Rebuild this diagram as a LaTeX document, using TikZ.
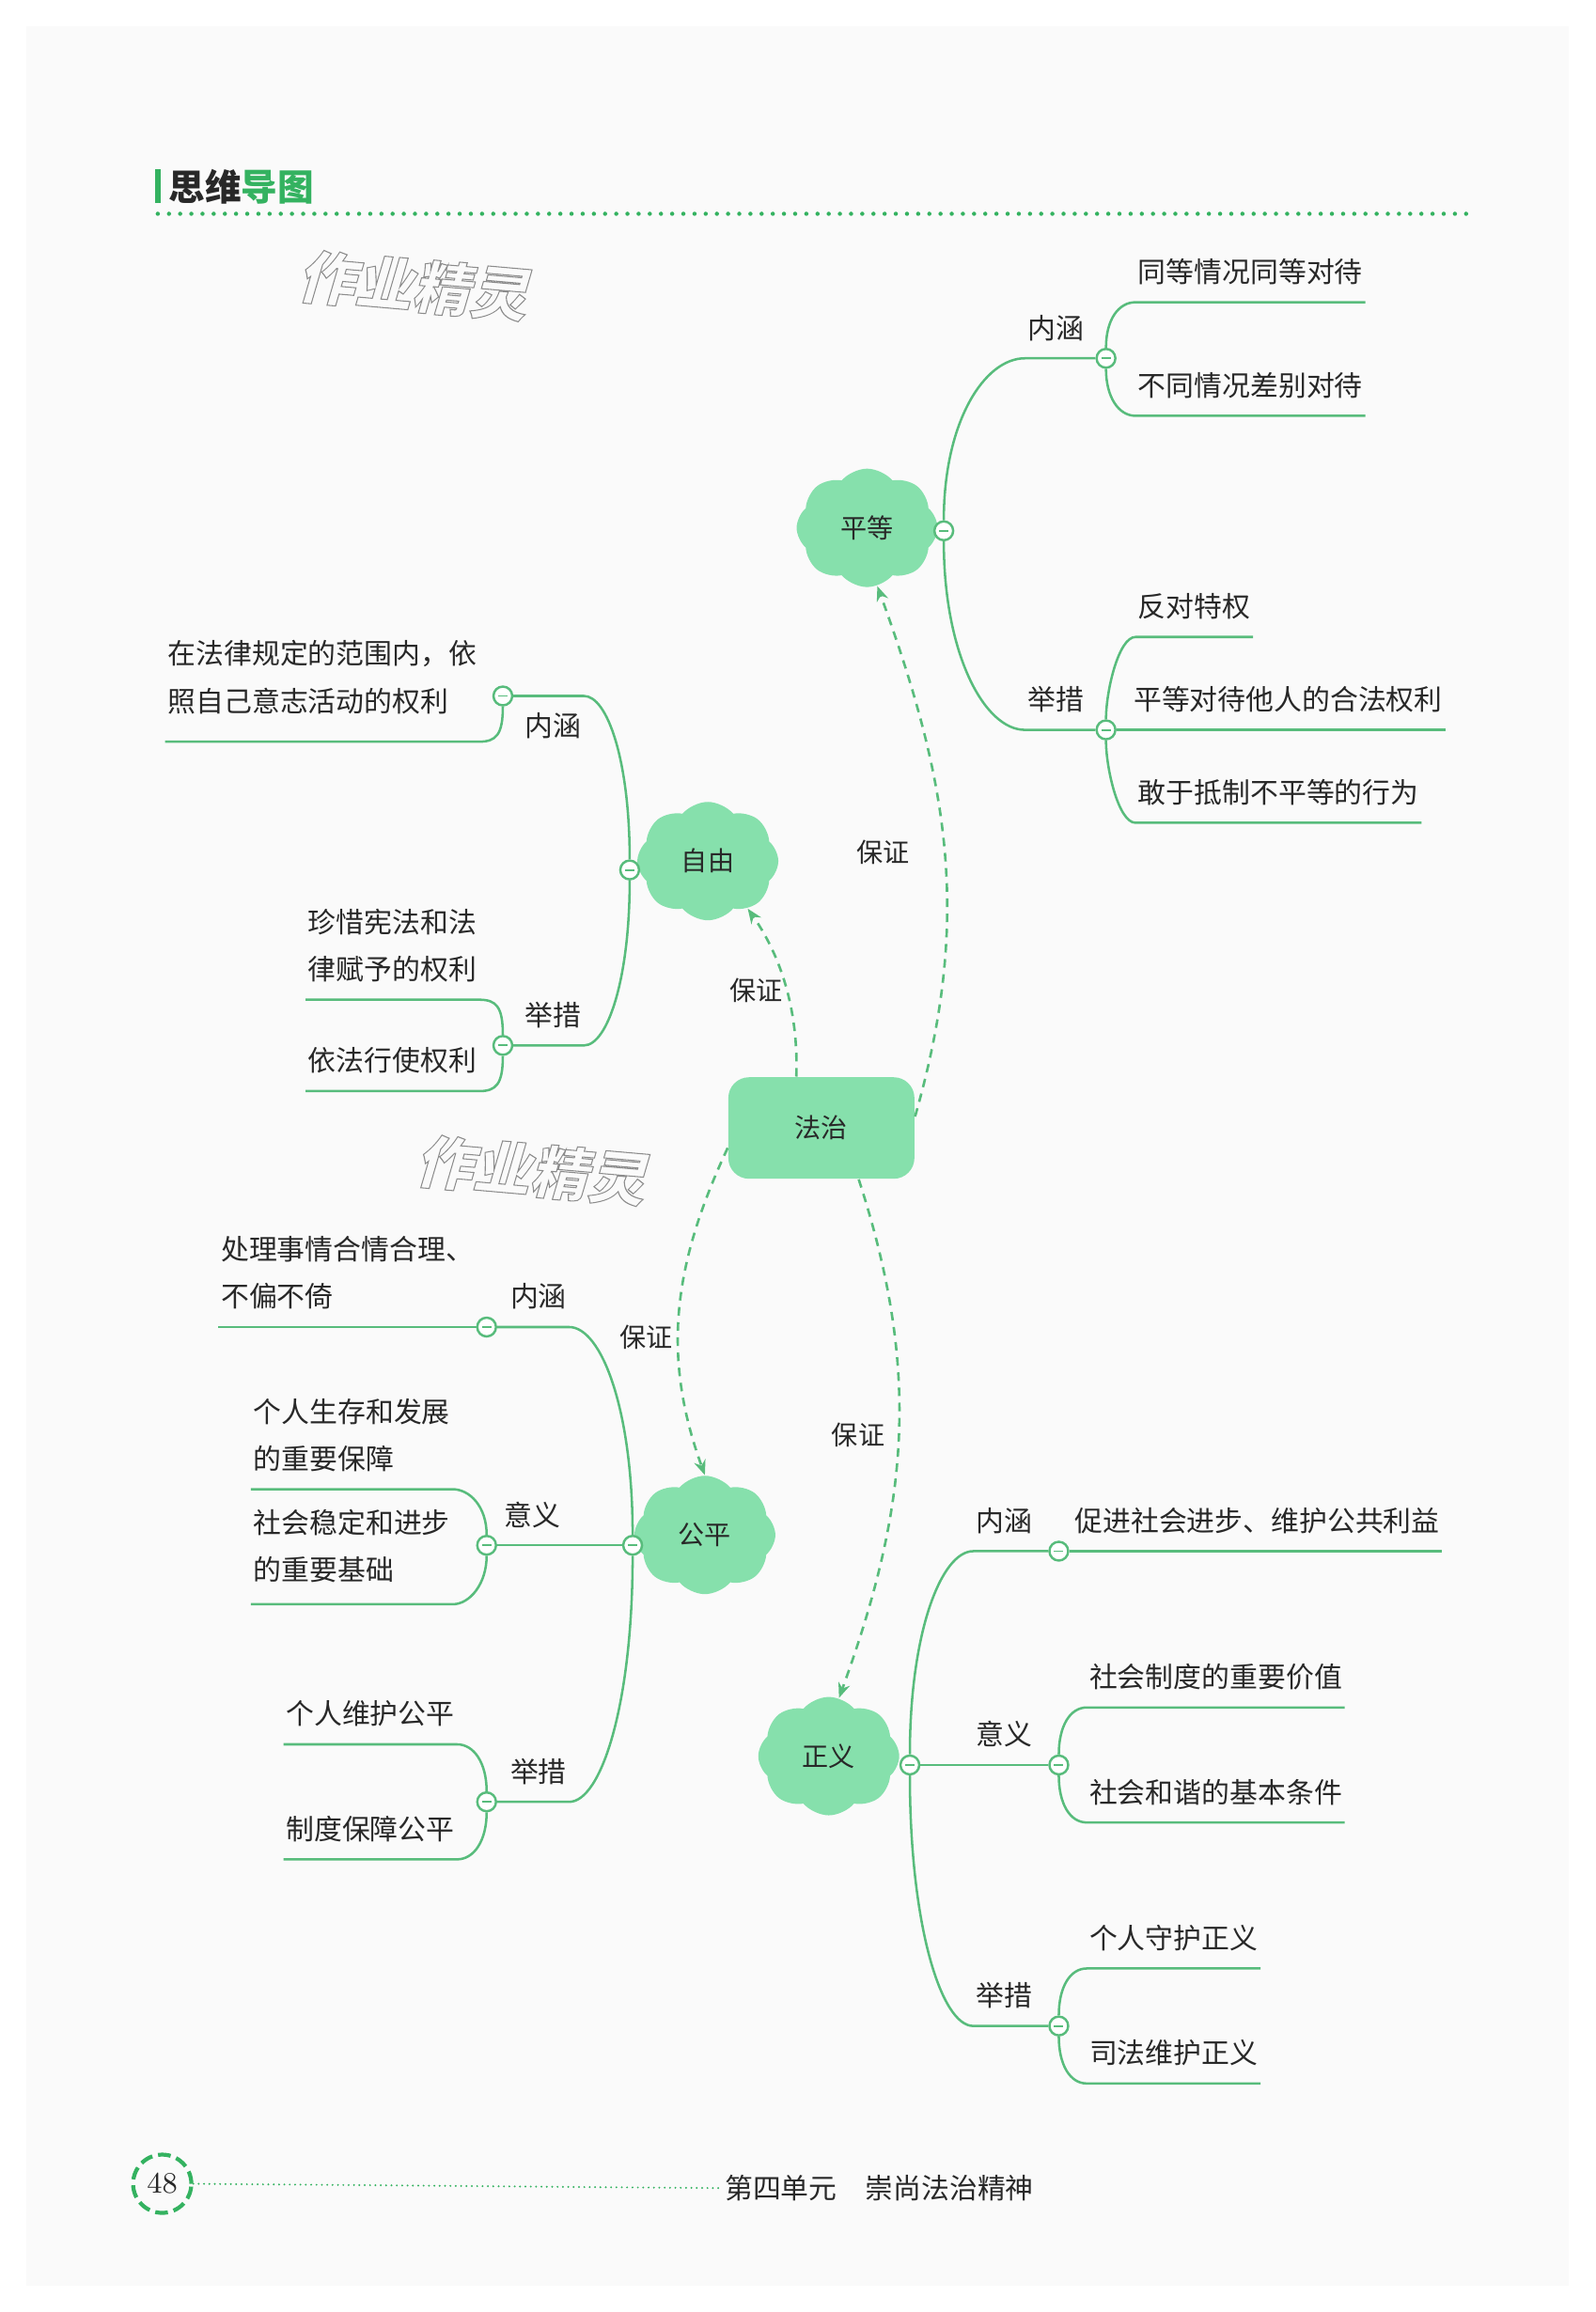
\documentclass[tikz,border=0pt]{standalone}
\usepackage{fontspec}
\newfontfamily\cjk{Noto Sans CJK SC}
\usetikzlibrary{arrows.meta, shapes.symbols}
\definecolor{lgreen}{RGB}{88,188,124}
\definecolor{tgreen}{RGB}{52,178,96}
\definecolor{mint}{RGB}{134,224,172}
\definecolor{ink}{RGB}{40,40,40}

\tikzset{
  % testo dei rami
  txt/.style={font=\cjk\fontsize{8.5}{14.3}\selectfont, text=ink, inner xsep=0.6pt, inner ysep=5.8pt, text depth=0pt, align=left},
  leaf/.style={txt},
  lab/.style={txt, text height=6.1pt},
  % curvette verso le foglie
  twig/.style={out distance=3mm, in distance=1.8mm}
}
% testo vuoto (solo contorno)
\newcommand{\hollow}[1]{\special{pdf:code 1 Tr 0.3 w}#1\special{pdf:code 0 Tr}}

\begin{document}
\begin{tikzpicture}[
        x=0.15693mm, y=0.15693mm,
        % linee dei rami
        branch/.style={draw=lgreen, line width=0.72pt},
        guard/.style={draw=lgreen, line width=0.75pt, dash pattern=on 2.6pt off 2pt, -{Stealth[length=4.5pt,width=3.6pt]}},
        guardtag/.style={font=\cjk\fontsize{8}{9}\selectfont, text=ink, inner sep=0pt},
        % nodi
        knot/.style={circle, draw=lgreen, fill=white, line width=0.7pt, minimum size=2mm, inner sep=0pt,
            path picture={\draw[lgreen, line width=0.55pt] ([xshift=-0.5mm]path picture bounding box.center) -- ([xshift=0.5mm]path picture bounding box.center);}},
        bubble/.style={cloud, cloud puffs=8, cloud puff arc=100, aspect=1.2, fill=mint, minimum width=15mm, minimum height=12.6mm, inner sep=0pt, font=\cjk\fontsize{8}{9}\selectfont, text=ink},
        core/.style={rectangle, rounded corners=2.2mm, fill=mint, minimum width=19.8mm, minimum height=10.8mm, font=\cjk\fontsize{8}{9}\selectfont, text=ink},
        wmark/.style={font=\cjk\bfseries\fontsize{17.4}{18}\selectfont, text=black!45, rotate=-5, xslant=0.2},
        headdots/.style={draw=tgreen, line width=0.45mm, line cap=round, dash pattern=on 0pt off 1.19mm},
        footdots/.style={draw=tgreen, line width=0.22mm, line cap=round, dash pattern=on 0pt off 0.57mm},
        pagecirc/.style={circle, draw=tgreen, line width=1.2pt, dash pattern=on 1.35mm off 0.63mm, minimum size=6.2mm, inner sep=0pt, font=\fontsize{9}{10}\selectfont, text=ink}
    ]

    % fondo pagina
    \fill[white] (0,0) rectangle (1082,-1568);
    \fill[black!2] (18,-18) rectangle (1064,-1550);
    \useasboundingbox (0,0) rectangle (1082,-1568);

    % filigrana
    \node[wmark] (wm1) at (283,-194) {\hollow{作业精灵}};
    \node[wmark] (wm2) at (363,-794) {\hollow{作业精灵}};

    % intestazione
    \draw[tgreen, line width=0.55mm] (107,-115) -- (107,-138);
    \node[anchor=west, inner sep=0pt, font=\cjk\bfseries\fontsize{11}{12}\selectfont, text=ink] (ttl) at (114,-126.5) {思维\textcolor{tgreen}{导图}};
    \draw[headdots] (107,-145) -- (995,-145);

    % nodo centrale e nuvole
    \node[core] (fz) at (557,-765) {法治};
    \node[bubble] (pd) at (588,-358) {平等};
    \node[bubble] (zy) at (480,-584) {自由};
    \node[bubble] (gp) at (478,-1041) {公平};
    \node[bubble] (zhy) at (562,-1191) {正义};

    % frecce tratteggiate
    \draw[guard] (fz.7) to[out=74,in=-70] (pd.-80);
    \draw[guard] (fz.116) to[out=88,in=-55,out distance=9mm,in distance=4mm] (zy.-50);
    \draw[guard] (fz.192) to[out=245,in=110] (gp.90);
    \draw[guard] (fz.-54) to[out=-72,in=70] (zhy.80);
    \node[guardtag] (bz1) at (599,-578) {保证};
    \node[guardtag] (bz2) at (513,-672) {保证};
    \node[guardtag] (bz3) at (438,-907) {保证};
    \node[guardtag] (bz4) at (582,-973) {保证};

    % ---- 平等 ----
    \node[knot] (kpd) at (640,-360) {};
    \node[knot] (kpdn) at (750,-243) {};
    \node[knot] (kpdj) at (750,-495) {};
    \node[lab, anchor=south west] (lpdn) at (695,-243) {内涵};
    \node[lab, anchor=south west] (lpdj) at (695,-495) {举措};
    \node[leaf, anchor=south west] (pdn1) at (770,-205) {同等情况同等对待};
    \node[leaf, anchor=south west] (pdn2) at (770,-282) {不同情况差别对待};
    \node[leaf, anchor=south west] (pdj1) at (770,-432) {反对特权};
    \node[leaf, anchor=south west] (pdj2) at (767,-495) {平等对待他人的合法权利};
    \node[leaf, anchor=south west] (pdj3) at (770,-558) {敢于抵制不平等的行为};
    \draw[branch] (kpd.north) to[out=90,in=180,out distance=10.5mm,in distance=4.3mm] (lpdn.south west) -- (kpdn.west);
    \draw[branch] (kpd.south) to[out=-90,in=180,out distance=12mm,in distance=4.3mm] (lpdj.south west) -- (kpdj.west);
    \draw[branch] (kpdn.north) to[twig,out=90,in=180] (pdn1.south west) -- (pdn1.south east);
    \draw[branch] (kpdn.south) to[twig,out=-90,in=180] (pdn2.south west) -- (pdn2.south east);
    \draw[branch] (kpdj.north) to[twig,out=90,in=180] (pdj1.south west) -- (pdj1.south east);
    \draw[branch] (kpdj.east) -- (pdj2.south east);
    \draw[branch] (kpdj.south) to[twig,out=-90,in=180] (pdj3.south west) -- (pdj3.south east);

    % ---- 自由 ----
    \node[knot] (kzy) at (427,-590) {};
    \node[knot] (kzyn) at (341,-472) {};
    \node[knot] (kzyj) at (341,-709) {};
    \node[lab, anchor=north east] (lzyn) at (396,-472) {内涵};
    \node[lab, anchor=south east] (lzyj) at (396,-709) {举措};
    \node[leaf, anchor=south east, inner ysep=8.9pt] (zyn1) at (325,-503) {在法律规定的范围内，依\\照自己意志活动的权利};
    \node[leaf, anchor=south east] (zyj1) at (325,-678) {珍惜宪法和法\\律赋予的权利};
    \node[leaf, anchor=south east] (zyj2) at (325,-740) {依法行使权利};
    \draw[branch] (kzy.north) to[out=90,in=0,out distance=10.5mm,in distance=2.5mm] (lzyn.north east) -- (kzyn.east);
    \draw[branch] (kzy.south) to[out=-90,in=0,out distance=10.5mm,in distance=2.5mm] (lzyj.south east) -- (kzyj.east);
    \draw[branch] (kzyn.south) to[twig,out=-90,in=0] (zyn1.south east) -- (zyn1.south west);
    \draw[branch] (kzyj.north) to[twig,out=90,in=0] (zyj1.south east) -- (zyj1.south west);
    \draw[branch] (kzyj.south) to[twig,out=-90,in=0] (zyj2.south east) -- (zyj2.south west);

    % ---- 公平 ----
    \node[knot] (kgp) at (429,-1048) {};
    \node[knot] (kgpn) at (330,-900) {};
    \node[knot] (kgpy) at (330,-1048) {};
    \node[knot] (kgpj) at (330,-1222) {};
    \node[lab, anchor=south east] (lgpn) at (386,-900) {内涵};
    \node[lab, anchor=south west] (lgpy) at (340,-1048) {意义};
    \node[lab, anchor=south east] (lgpj) at (386,-1222) {举措};
    \node[leaf, anchor=south east] (gpn1) at (323,-900) {处理事情合情合理、\\不偏不倚};
    \node[leaf, anchor=south east] (gpy1) at (307,-1010) {个人生存和发展\\的重要保障};
    \node[leaf, anchor=south east, inner ysep=7.1pt] (gpy2) at (307,-1088) {社会稳定和进步\\的重要基础};
    \node[leaf, anchor=south east] (gpj1) at (310,-1183) {个人维护公平};
    \node[leaf, anchor=south east] (gpj2) at (310,-1261) {制度保障公平};
    \draw[branch] (kgp.north) to[out=90,in=0,out distance=13.4mm,in distance=3.4mm] (lgpn.south east) -- (kgpn.east);
    \draw[branch] (kgp.west) -- (kgpy.east);
    \draw[branch] (kgp.south) to[out=-90,in=0,out distance=15.8mm,in distance=3.4mm] (lgpj.south east) -- (kgpj.east);
    \draw[branch] (kgpn.west) -- (gpn1.south west);
    \draw[branch] (kgpy.north) to[twig,out=90,in=0] (gpy1.south east) -- (gpy1.south west);
    \draw[branch] (kgpy.south) to[twig,out=-90,in=0] (gpy2.south east) -- (gpy2.south west);
    \draw[branch] (kgpj.north) to[twig,out=90,in=0] (gpj1.south east) -- (gpj1.south west);
    \draw[branch] (kgpj.south) to[twig,out=-90,in=0] (gpj2.south east) -- (gpj2.south west);

    % ---- 正义 ----
    \node[knot] (kzhy) at (617,-1197) {};
    \node[knot] (kzhyn) at (718,-1052) {};
    \node[knot] (kzhyy) at (718,-1197) {};
    \node[knot] (kzhyj) at (718,-1374) {};
    \node[lab, anchor=south west] (lzhyn) at (660,-1052) {内涵};
    \node[lab, anchor=south west] (lzhyy) at (660,-1197) {意义};
    \node[lab, anchor=south west] (lzhyj) at (660,-1374) {举措};
    \node[leaf, anchor=south west] (zhyn1) at (727,-1052) {促进社会进步、维护公共利益};
    \node[leaf, anchor=south west] (zhyy1) at (737,-1158) {社会制度的重要价值};
    \node[leaf, anchor=south west] (zhyy2) at (737,-1236) {社会和谐的基本条件};
    \node[leaf, anchor=south west] (zhyj1) at (737,-1335) {个人守护正义};
    \node[leaf, anchor=south west] (zhyj2) at (737,-1413) {司法维护正义};
    \draw[branch] (kzhy.north) to[out=90,in=180,out distance=13mm,in distance=3.4mm] (lzhyn.south west) -- (kzhyn.west);
    \draw[branch] (kzhy.east) -- (kzhyy.west);
    \draw[branch] (kzhy.south) to[out=-90,in=180,out distance=16mm,in distance=3.4mm] (lzhyj.south west) -- (kzhyj.west);
    \draw[branch] (kzhyn.east) -- (zhyn1.south east);
    \draw[branch] (kzhyy.north) to[twig,out=90,in=180] (zhyy1.south west) -- (zhyy1.south east);
    \draw[branch] (kzhyy.south) to[twig,out=-90,in=180] (zhyy2.south west) -- (zhyy2.south east);
    \draw[branch] (kzhyj.north) to[twig,out=90,in=180] (zhyj1.south west) -- (zhyj1.south east);
    \draw[branch] (kzhyj.south) to[twig,out=-90,in=180] (zhyj2.south west) -- (zhyj2.south east);

    % pie' di pagina
    \node[pagecirc] (pg) at (110,-1481) {48};
    \node[anchor=west, inner sep=0.5pt, font=\cjk\fontsize{8.5}{10}\selectfont, text=ink] (unit) at (490,-1484) {第四单元\hspace{1em}崇尚法治精神};
    \draw[footdots] (pg.east) -- (unit.west);

\end{tikzpicture}
\end{document}
